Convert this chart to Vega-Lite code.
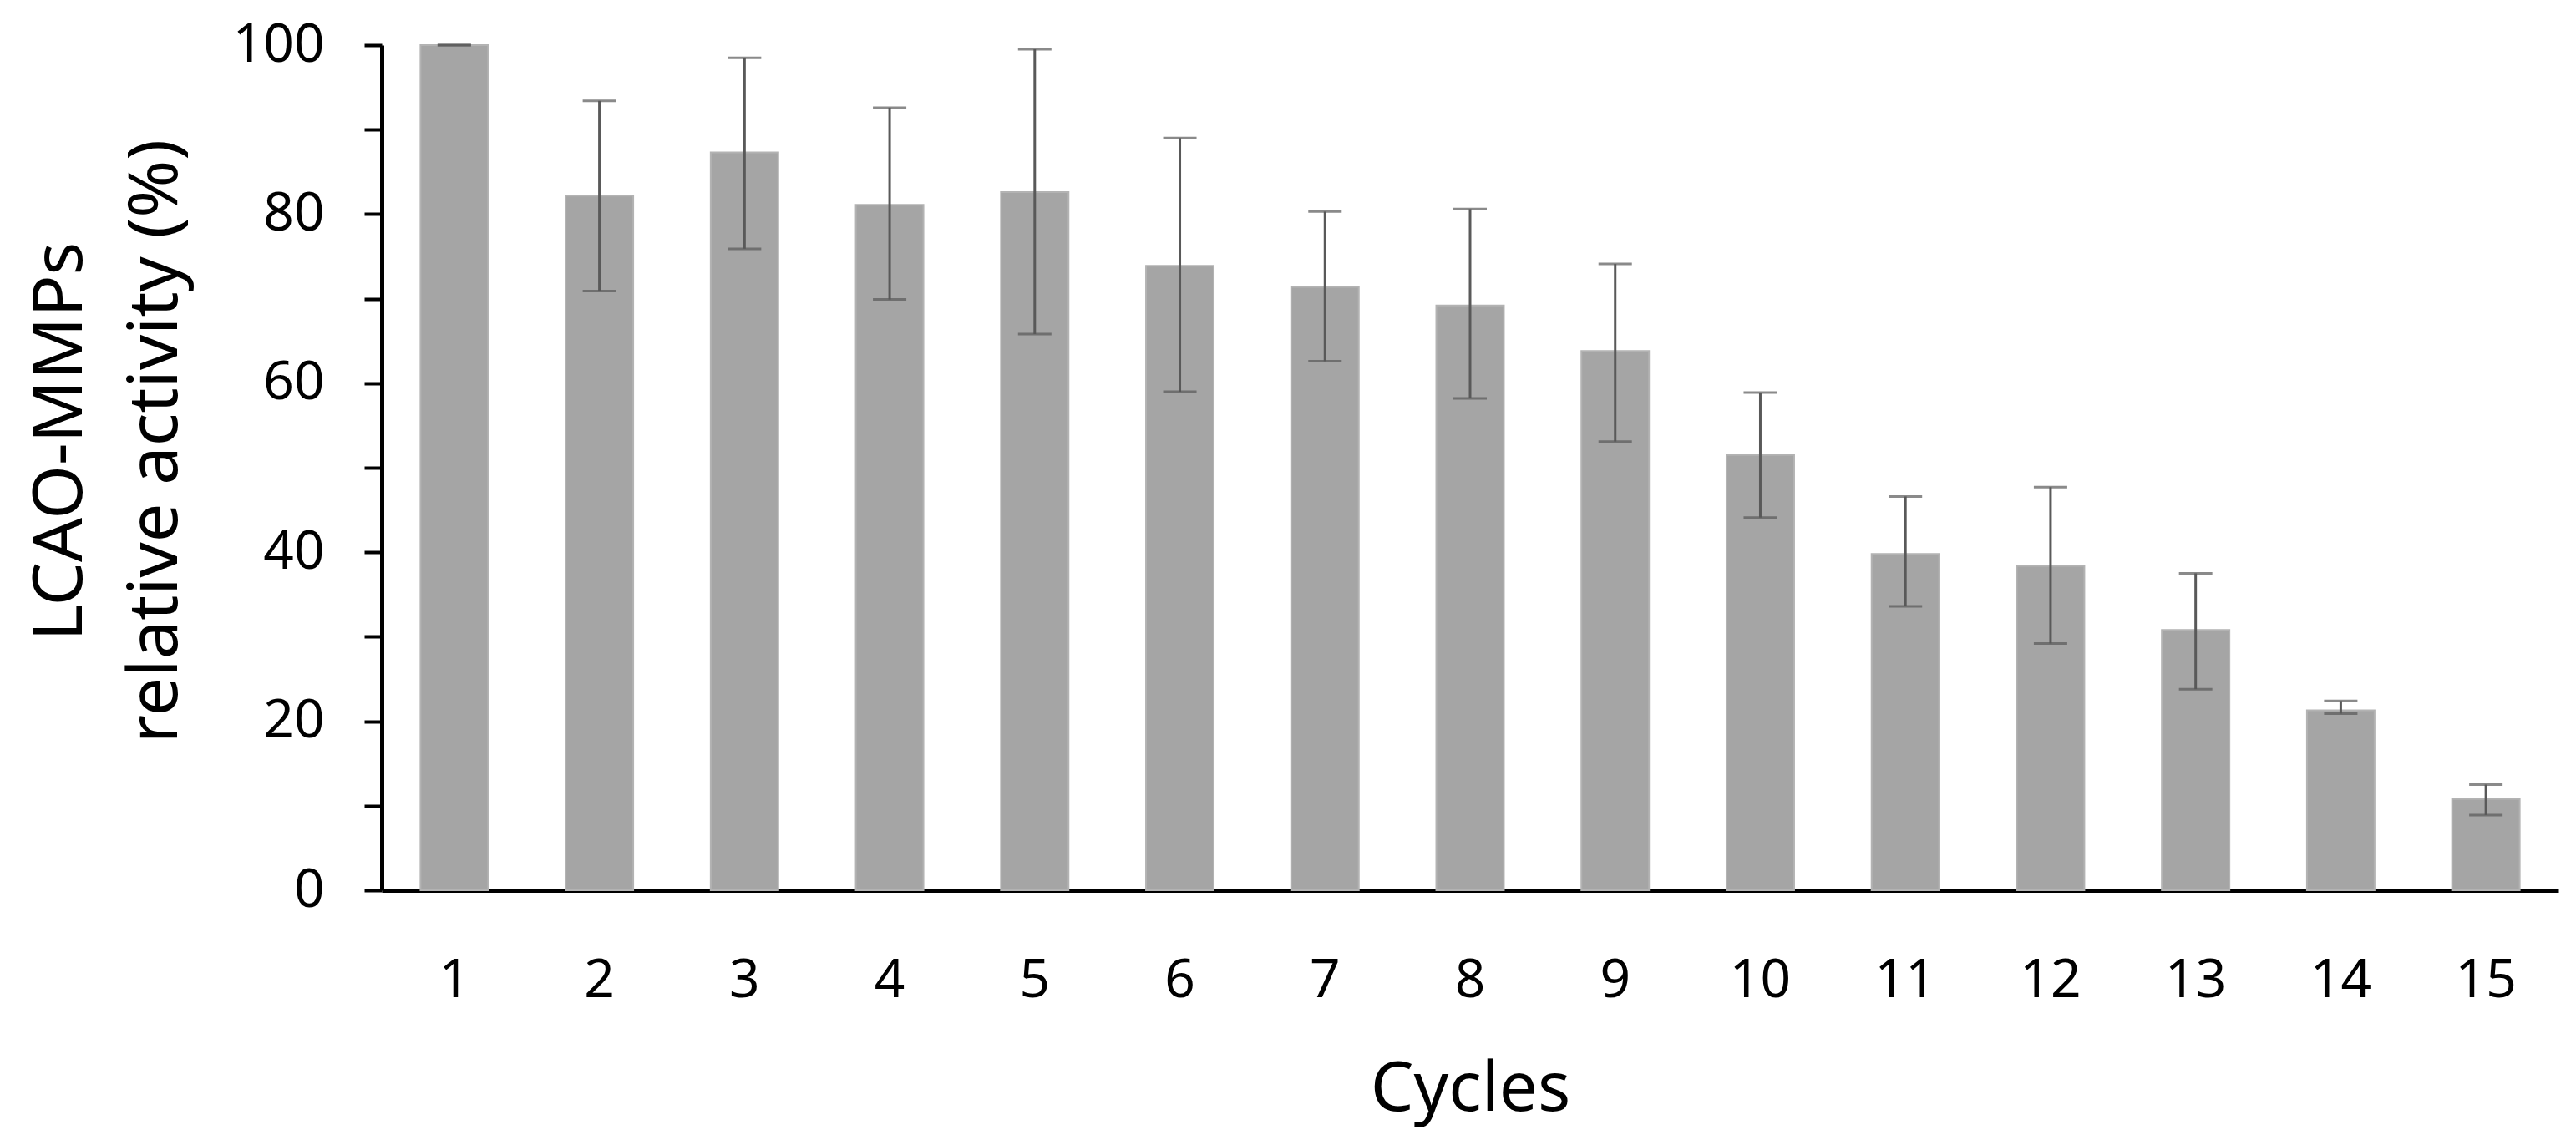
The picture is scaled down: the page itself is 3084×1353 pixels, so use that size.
{
  "$schema": "https://vega.github.io/schema/vega-lite/v6.json",
  "autosize": "none",
  "padding": {"left": 457, "top": 54, "right": 21, "bottom": 287},
  "width": 2606,
  "height": 1012,
  "background": "white",
  "config": {"view": {"stroke": null}},
  "data": {
    "values": [
      {"cycle": "1", "activity": 100, "lo": 100, "hi": 100},
      {"cycle": "2", "activity": 82.2, "lo": 70.9, "hi": 93.4},
      {"cycle": "3", "activity": 87.3, "lo": 75.9, "hi": 98.5},
      {"cycle": "4", "activity": 81.1, "lo": 69.9, "hi": 92.6},
      {"cycle": "5", "activity": 82.6, "lo": 65.8, "hi": 99.5},
      {"cycle": "6", "activity": 73.9, "lo": 59.0, "hi": 89.0},
      {"cycle": "7", "activity": 71.4, "lo": 62.6, "hi": 80.3},
      {"cycle": "8", "activity": 69.2, "lo": 58.2, "hi": 80.6},
      {"cycle": "9", "activity": 63.8, "lo": 53.1, "hi": 74.1},
      {"cycle": "10", "activity": 51.5, "lo": 44.1, "hi": 58.9},
      {"cycle": "11", "activity": 39.8, "lo": 33.6, "hi": 46.6},
      {"cycle": "12", "activity": 38.4, "lo": 29.2, "hi": 47.7},
      {"cycle": "13", "activity": 30.8, "lo": 23.8, "hi": 37.5},
      {"cycle": "14", "activity": 21.3, "lo": 20.9, "hi": 22.4},
      {"cycle": "15", "activity": 10.8, "lo": 8.9, "hi": 12.5}
    ]
  },
  "encoding": {
    "x": {
      "field": "cycle",
      "type": "ordinal",
      "sort": null,
      "scale": {"paddingInner": 0.534, "paddingOuter": 0.267},
      "axis": {
        "title": "Cycles",
        "titleFont": "Noto Sans",
        "titleFontSize": 82,
        "titleFontWeight": "normal",
        "titleColor": "black",
        "titlePadding": 58,
        "labelFont": "Noto Sans",
        "labelFontSize": 64,
        "labelColor": "black",
        "labelAngle": 0,
        "labelPadding": 76,
        "ticks": false,
        "domainColor": "black",
        "domainWidth": 5
      }
    }
  },
  "layer": [
    {
      "mark": {"type": "bar", "color": "#a5a5a5", "stroke": "#b3b3b3", "strokeWidth": 2},
      "encoding": {
        "y": {
          "field": "activity",
          "type": "quantitative",
          "scale": {"domain": [0, 100], "nice": false},
          "axis": {
            "title": ["LCAO-MMPs", "relative activity (%)"],
            "titleFont": "Noto Sans",
            "titleFontSize": 83,
            "titleFontWeight": "normal",
            "titleColor": "black",
            "titleLineHeight": 114,
            "titlePadding": 50,
            "titleY": 474,
            "values": [0, 10, 20, 30, 40, 50, 60, 70, 80, 90, 100],
            "labelExpr": "datum.value % 20 == 0 ? datum.label : ''",
            "labelFont": "Noto Sans",
            "labelFontSize": 64,
            "labelColor": "black",
            "labelPadding": 48,
            "tickSize": 21,
            "tickWidth": 4,
            "tickColor": "black",
            "domainColor": "black",
            "domainWidth": 5,
            "grid": false
          }
        }
      }
    },
    {
      "mark": {"type": "rule", "color": "#595959", "strokeWidth": 3},
      "encoding": {
        "y": {"field": "lo", "type": "quantitative"},
        "y2": {"field": "hi"}
      }
    },
    {
      "mark": {"type": "tick", "color": "#595959", "thickness": 3, "size": 40, "orient": "horizontal"},
      "encoding": {"y": {"field": "lo", "type": "quantitative"}}
    },
    {
      "mark": {"type": "tick", "color": "#595959", "thickness": 3, "size": 40, "orient": "horizontal"},
      "encoding": {"y": {"field": "hi", "type": "quantitative"}}
    }
  ]
}
